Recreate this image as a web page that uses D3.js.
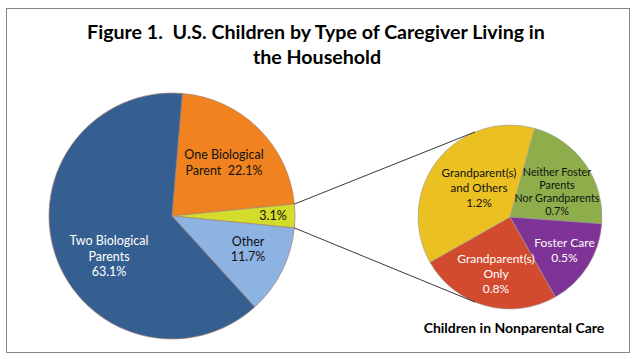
<!DOCTYPE html>
<html><head><meta charset="utf-8">
<script src="https://cdn.jsdelivr.net/npm/d3@7"></script>
<style>body{margin:0;background:#fff;} svg{display:block;font-family:Lato,'Open Sans',sans-serif;} text{white-space:pre;}</style>
</head><body><svg id="c" width="635" height="359"></svg>
<script>
// ---- data ----
const titleLines = ["Figure 1.  U.S. Children by Type of Caregiver Living in", "the Household"];
const mainCategories = ["One Biological Parent", "Nonparental Care", "Other", "Two Biological Parents"];
const mainValues = [22.1, 3.1, 11.7, 63.1];
const mainLabelLines = [["One Biological", "Parent  {v}"], ["{v}"], ["Other", "{v}"], ["Two Biological", "Parents", "{v}"]];
const subCategories = ["Neither Foster Parents Nor Grandparents", "Foster Care", "Grandparent(s) Only", "Grandparent(s) and Others"];
const subValues = [0.7, 0.5, 0.8, 1.2];
const subLabelLines = [["Neither Foster", "Parents", "Nor Grandparents", "{v}"], ["Foster Care", "{v}"], ["Grandparent(s)", "Only", "{v}"], ["Grandparent(s)", "and Others", "{v}"]];
const subTitle = "Children in Nonparental Care";

// ---- style / layout ----
const mainColors = ["#F0821F", "#D3DC2A", "#8DB3E2", "#365F91"];
const mainText = ["#111", "#111", "#111", "#fff"];
const subColors = ["#8DAE4A", "#7F3397", "#D24B2F", "#EAC121"];
const subText = ["#111", "#fff", "#fff", "#111"];
const mainC = {x: 172, y: 216, r: 123};
const subC = {x: 510, y: 217, r: 92};
const mainLabelPos = [[52, -57], [101, 4], [76, 29.7], [-63, 29]];
const subLabelPos = [[47, -41], [54.5, 29.7], [-14, 45.7], [-31, -40.3]];
const mainLH = 15.7, subLH = [13, 15, 15, 15];
const fmt = v => d3.format(".1f")(v) + "%";

const svg = d3.select("#c");
svg.append("rect").attr("x", 6.5).attr("y", 8.5).attr("width", 623).attr("height", 344)
  .attr("fill", "#fff").attr("stroke", "#868686").attr("stroke-width", 1);

// title
const tg = svg.append("g").attr("font-weight", "bold").attr("fill", "#000").attr("text-anchor", "middle");
const t1 = tg.append("text").attr("x", 316).attr("y", 38.5).attr("font-size", 20).text(titleLines[0]);
const len = t1.node().getComputedTextLength();
const tfs = 20 * 458 / len;
t1.attr("font-size", tfs);
tg.append("text").attr("x", 317).attr("y", 63.5).attr("font-size", tfs).text(titleLines[1]);

// main pie
const total = d3.sum(mainValues);
const mStart = Math.PI / 2 - (mainValues[0] + mainValues[1] / 2) / total * 2 * Math.PI;
const mainPie = d3.pie().sort(null).value(d => d).startAngle(mStart).endAngle(mStart + 2 * Math.PI);
const mArcs = mainPie(mainValues);
const mArc = d3.arc().innerRadius(0).outerRadius(mainC.r);
const mg = svg.append("g").attr("transform", `translate(${mainC.x},${mainC.y})`);
mg.selectAll("path").data(mArcs).join("path").attr("d", mArc)
  .attr("fill", (d, i) => mainColors[i]).attr("stroke", "#a58275").attr("stroke-width", 0.7);

// secondary pie
const sStart = 15.5 * Math.PI / 180;
const subPie = d3.pie().sort(null).value(d => d).startAngle(sStart).endAngle(sStart + 2 * Math.PI);
const sArcs = subPie(subValues);
const sArc = d3.arc().innerRadius(0).outerRadius(subC.r);
const sg = svg.append("g").attr("transform", `translate(${subC.x},${subC.y})`);
sg.selectAll("path").data(sArcs).join("path").attr("d", sArc)
  .attr("fill", (d, i) => subColors[i]).attr("stroke", "#9a9a9a").attr("stroke-width", 0.6);

// connector lines
const pt = (c, r, a) => [c.x + r * Math.sin(a), c.y - r * Math.cos(a)];
const y = mArcs[1];
const conn = [
  [pt(mainC, mainC.r, y.startAngle), pt(subC, subC.r, 337.6 * Math.PI / 180)],
  [pt(mainC, mainC.r, y.endAngle), pt(subC, subC.r, 202.4 * Math.PI / 180)]
];
svg.selectAll("line.conn").data(conn).join("line").attr("class", "conn")
  .attr("x1", d => d[0][0]).attr("y1", d => d[0][1]).attr("x2", d => d[1][0]).attr("y2", d => d[1][1])
  .attr("stroke", "#222").attr("stroke-width", 0.9);

// labels
function labels(g, arcs, lines, pos, colors, lh, fs) {
  arcs.forEach((a, i) => {
    const t = g.append("text").attr("text-anchor", "middle").attr("fill", colors[i]).attr("font-size", Array.isArray(fs) ? fs[i] : fs);
    lines[i].forEach((l, j) => {
      t.append("tspan").attr("x", pos[i][0]).attr("y", pos[i][1] + j * (Array.isArray(lh) ? lh[i] : lh))
        .text(l.replace("{v}", fmt(a.data)));
    });
  });
}
labels(mg, mArcs, mainLabelLines, mainLabelPos, mainText, mainLH, 12.5);
labels(sg, sArcs, subLabelLines, subLabelPos, subText, subLH, [10.8, 12, 12, 11.6]);

svg.append("text").attr("x", 514).attr("y", 332.7).attr("text-anchor", "middle")
  .attr("font-weight", "bold").attr("font-size", 14).attr("fill", "#000").text(subTitle);
</script></body></html>
